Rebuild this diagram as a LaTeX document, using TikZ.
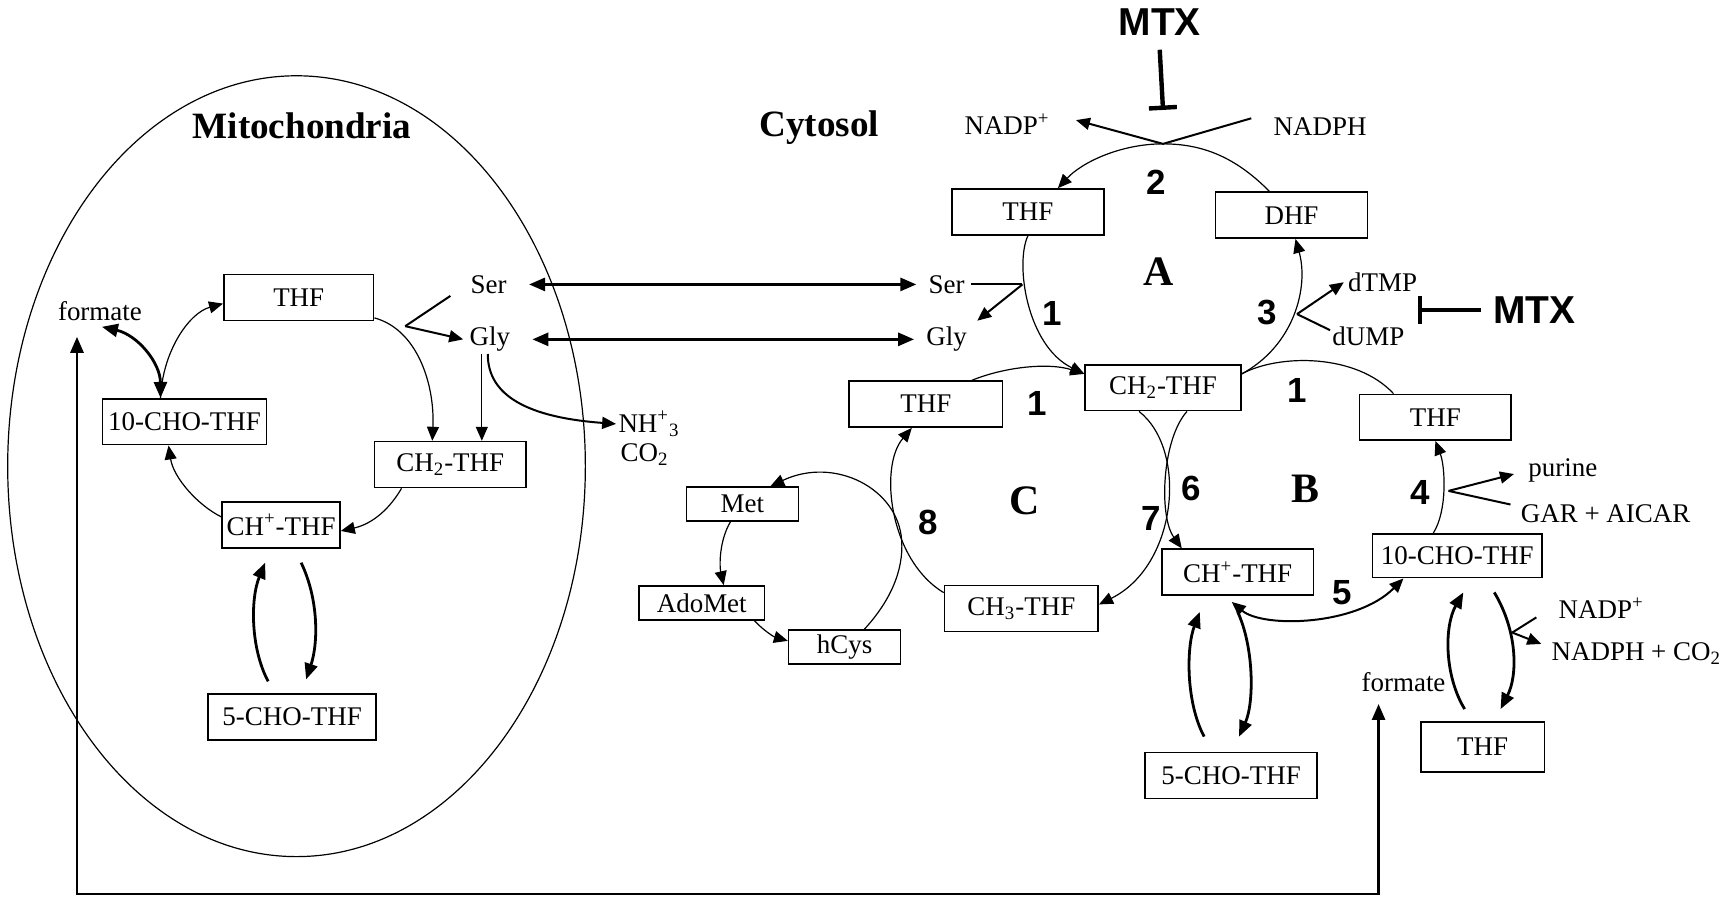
\documentclass[tikz,border=0pt]{standalone}
\usepackage{fontspec}
\setmainfont{Liberation Serif}
\newfontfamily\arialfont{Liberation Sans}
\usetikzlibrary{arrows.meta}
\tikzset{
  box/.style={rectangle, draw, line width=0.8pt, minimum height=23pt, inner sep=1pt,
    font=\fontsize{13.5}{15}\selectfont},
  sbox/.style={box, minimum height=17pt},
  lbl/.style={inner sep=1pt, font=\fontsize{13.5}{15}\selectfont},
  num/.style={inner sep=0pt, font=\arialfont\bfseries\fontsize{17.5}{19}\selectfont},
  cyc/.style={inner sep=0pt, font=\bfseries\fontsize{21}{23}\selectfont},
  comp/.style={inner sep=0pt, font=\bfseries\fontsize{18.6}{20}\selectfont},
  mtx/.style={inner sep=0pt, font=\arialfont\bfseries\fontsize{19.5}{21}\selectfont},
  ln/.style={line width=0.6pt},
  lnm/.style={line width=1pt},
  arr/.style={-{Triangle[length=7pt,width=6pt]}, line width=0.6pt},
  arrm/.style={-{Triangle[length=7pt,width=6pt]}, line width=1pt},
  darrm/.style={{Triangle[length=7pt,width=6pt]}-{Triangle[length=7pt,width=6pt]}, line width=1pt},
  tarr/.style={-{Triangle[length=8pt,width=6.5pt]}, line width=1.4pt},
  darr/.style={{Triangle[length=8pt,width=6.5pt]}-{Triangle[length=8pt,width=6.5pt]}, line width=1.4pt},
  inh/.style={-{Bar[width=14pt]}, line width=2.2pt},
}
\begin{document}
\begin{tikzpicture}[x=0.55pt, y=-0.55pt]
  \useasboundingbox (0,0) rectangle (1568,818);
  % mitochondria
  \draw[ln] (270,424.5) ellipse [x radius=263, y radius=355.5];
  \node[comp] (mitolbl) at (275,115) {Mitochondria};
  \node[box, minimum width=75pt] (mthf) at (272,271) {THF};
  \node[lbl] (mform) at (91,283) {formate};
  \node[lbl] (mser) at (445,259) {Ser};
  \node[lbl] (mgly) at (446,309) {Gly};
  \node[box, minimum width=82pt] (mcho) at (168,384) {10-CHO-THF};
  \node[box, minimum width=76pt] (mch2) at (410,423) {CH\textsubscript{2}-THF};
  \node[box, minimum width=59pt] (mchp) at (256,478) {CH\textsuperscript{+}-THF};
  \node[box, minimum width=84pt] (mfcho) at (266,653) {5-CHO-THF};
  \node[lbl, anchor=west] (mnh) at (561,386) {NH\textsuperscript{+}\textsubscript{3}};
  \node[lbl, anchor=west] (mco) at (563,414) {CO\textsubscript{2}};
  \coordinate (mbr) at (369,297);
  \draw[arr] (mthf.-15) .. controls (380,300) and (396,350) .. ([xshift=-9pt]mch2.north);
  \draw[lnm] ([xshift=-9pt]mser.south west) -- (mbr);
  \draw[arrm] (mbr) -- ([xshift=-2pt]mgly.west);
  \draw[arr] ([xshift=-4pt]mgly.south) -- ([xshift=-4pt]mgly.south |- mch2.north);
  \draw[arrm] ([xshift=-1pt]mgly.south) .. controls (444,360) and (480,380) .. (mnh.west);
  \draw[arr] ([xshift=14pt]mch2.south west) .. controls (352,468) and (335,478) .. ([yshift=-3pt]mchp.east);
  \draw[arr] ([yshift=4pt]mchp.west) .. controls (180,460) and (158,435) .. ([xshift=-8pt]mcho.south);
  \draw[arr] ([xshift=-12pt]mcho.north) .. controls (148,320) and (172,285) .. ([yshift=-3pt]mthf.west);
  \draw[darr] ([xshift=1pt,yshift=-2pt]mform.south) .. controls (125,305) and (146,330) .. ([xshift=-12pt]mcho.north);
  \draw[tarr] ([xshift=-12pt,yshift=6pt]mfcho.north) .. controls (228,590) and (228,545) .. ([xshift=-8pt,yshift=-7pt]mchp.south);
  \draw[tarr] ([xshift=10pt,yshift=-7pt]mchp.south) .. controls (290,545) and (290,585) .. ([xshift=7pt,yshift=7pt]mfcho.north);
  % exchange
  \node[lbl] (cser) at (862,259) {Ser};
  \node[lbl] (cgly) at (862,309) {Gly};
  \draw[darr] ([xshift=10pt]mser.east) -- ([xshift=-5pt]cser.west);
  \draw[darr] ([xshift=10pt]mgly.east) -- ([xshift=-5pt]cgly.west);
  \node[lbl] (cform) at (1278,621) {formate};
  \coordinate (botline) at (660,814);
  \draw[darr] ([xshift=-11.5pt,yshift=-7pt]mform.south) |- (botline) -| ([xshift=-12.5pt,yshift=-5pt]cform.south);
  % cytosol, cycle A
  \node[comp] (cytlbl) at (746,116) {Cytosol};
  \node[mtx] (mtxa) at (1056,20) {MTX};
  \node[lbl] (nadpa) at (917,113) {NADP\textsuperscript{+}};
  \node[lbl] (nadpha) at (1202,115) {NADPH};
  \coordinate (dhfr) at (1059,131);
  \draw[inh] ([yshift=-7pt]mtxa.south) -- ([yshift=17pt]dhfr);
  \draw[arrm] ([xshift=-10pt,yshift=4pt]nadpha.west) -- (dhfr) -- ([xshift=12pt,yshift=2pt]nadpa.east);
  \node[box, minimum width=76pt] (athf) at (936,193) {THF};
  \node[box, minimum width=76pt] (dhf) at (1176,196) {DHF};
  \node[num] (ntwo) at (1053,166) {2};
  \node[cyc] (cyca) at (1055,247) {A};
  \draw[arr] ([xshift=-11pt]dhf.north) .. controls (1125,143) and (1095,131) .. (dhfr)
    .. controls (1020,131) and (985,148) .. ([xshift=15pt]athf.north);
  \node[box, minimum width=78pt] (cch2) at (1059,353) {CH\textsubscript{2}-THF};
  \coordinate (shmt) at (931,259);
  \draw[arr] (athf.south) .. controls (924,240) and (935,315) .. ([yshift=-5pt]cch2.north west);
  \draw[lnm] ([xshift=2pt]cser.east) -- (shmt);
  \draw[arrm] (shmt) -- ([xshift=4pt,yshift=2pt]cgly.north east);
  \node[num] (none) at (958,285) {1};
  \draw[arr] ([yshift=-5pt]cch2.north east) .. controls (1178,315) and (1192,262) .. ([xshift=2pt]dhf.south);
  \node[lbl] (dtmp) at (1259,257) {dTMP};
  \node[lbl] (dump) at (1246,306) {dUMP};
  \coordinate (tsj) at (1181,286);
  \draw[arrm] (tsj) -- ([xshift=-1pt]dtmp.west);
  \draw[lnm] ([yshift=-3pt]dump.north west) -- (tsj);
  \node[num] (nthree) at (1154,285) {3};
  \node[mtx] (mtxb) at (1397,282) {MTX};
  \coordinate (tsbar) at (1291,282);
  \draw[inh] ([xshift=-6pt]mtxb.west) -- (tsbar);
  % cycles B and C
  \node[box, minimum width=77pt] (cthf) at (843,368) {THF};
  \draw[arr] ([xshift=23pt]cthf.north) .. controls (915,334) and (955,330) .. ([yshift=-5pt]cch2.north west);
  \node[num] (nonec) at (944,367) {1};
  \node[num] (noneb) at (1181,356) {1};
  \node[box, minimum width=76pt] (bthf) at (1307,380) {THF};
  \draw[ln] ([yshift=-5pt]cch2.north east) .. controls (1165,322) and (1235,322) .. ([xshift=-21pt]bthf.north);
  \node[cyc] (cycc) at (933,456) {C};
  \node[cyc] (cycb) at (1189,445) {B};
  \node[box, minimum width=77pt] (chthree) at (930,554) {CH\textsubscript{3}-THF};
  \draw[arr] ([yshift=-4pt]chthree.north west) .. controls (810,510) and (800,425) .. ([xshift=-7pt]cthf.south);
  \node[num] (neight) at (845,476) {8};
  \node[num] (nseven) at (1048,472) {7};
  \node[box, minimum width=76pt] (bch) at (1127,521) {CH\textsuperscript{+}-THF};
  \draw[arr] ([xshift=-12pt]cch2.south) .. controls (1082,410) and (1072,515) .. ([yshift=2pt]chthree.east);
  \draw[arr] ([xshift=12pt]cch2.south) .. controls (1058,400) and (1055,470) .. ([xshift=-28pt]bch.north);
  \node[num] (nsix) at (1085,445) {6};
  \node[box, minimum width=85pt, minimum height=22pt] (bcho) at (1327,506) {10-CHO-THF};
  \node[num] (nfive) at (1222,540) {5};
  \draw[darrm] ([xshift=-3pt,yshift=-3pt]bch.south) .. controls (1150,572) and (1235,570) .. ([xshift=-27pt]bcho.south);
  \draw[arr] ([xshift=-12pt]bcho.north) .. controls (1318,465) and (1316,425) .. (bthf.south);
  \node[num] (nfour) at (1293,448) {4};
  \node[lbl] (purine) at (1423,428) {purine};
  \node[lbl] (garaicar) at (1462,468) {GAR + AICAR};
  \coordinate (gart) at (1319,447);
  \draw[arrm] (gart) -- ([xshift=-6pt,yshift=-2pt]purine.west);
  \draw[lnm] ([xshift=-4pt,yshift=-1pt]garaicar.north west) -- (gart);
  % methionine cycle
  \node[sbox, minimum width=56pt] (met) at (676,459) {Met};
  \node[sbox, minimum width=63pt] (adomet) at (639,549) {AdoMet};
  \node[sbox, minimum width=56pt] (hcys) at (769,589) {hCys};
  \coordinate (mcyc) at (821,492);
  \draw[arr] ([xshift=10pt]hcys.north) .. controls (810,548) and (823,520) .. (mcyc)
    .. controls (818,445) and (760,415) .. ([xshift=14pt]met.north);
  \draw[arr] ([xshift=-6pt]met.south) .. controls (655,492) and (655,515) .. ([xshift=11pt]adomet.north);
  \draw[arr] ([xshift=-5.5pt]adomet.south east) .. controls (695,574) and (705,580) .. ([yshift=3pt]hcys.west);
  % 5-CHO-THF and formate (cytosol)
  \node[box, minimum width=86pt] (bfcho) at (1121,706) {5-CHO-THF};
  \draw[tarr] ([xshift=-13.5pt,yshift=7.5pt]bfcho.north) .. controls (1080,640) and (1080,590) .. ([xshift=-19pt,yshift=-8pt]bch.south);
  \draw[tarr] ([yshift=-8pt]bch.south) .. controls (1142,590) and (1142,640) .. ([xshift=4pt,yshift=7.5pt]bfcho.north);
  \node[box, minimum width=62pt, minimum height=25pt] (bthfb) at (1350,680) {THF};
  \draw[tarr] ([xshift=-9pt,yshift=6pt]bthfb.north) .. controls (1315,615) and (1315,570) .. ([xshift=3pt,yshift=-7pt]bcho.south);
  \draw[tarr] ([xshift=18.5pt,yshift=-7pt]bcho.south) .. controls (1382,575) and (1382,615) .. ([xshift=9pt,yshift=6pt]bthfb.north);
  \node[lbl] (nadpb) at (1458,554) {NADP\textsuperscript{+}};
  \node[lbl] (nadphb) at (1490,595) {NADPH + CO\textsubscript{2}};
  \coordinate (mthfd) at (1377,576);
  \draw[lnm] ([xshift=-10pt,yshift=2pt]nadpb.south west) -- (mthfd);
  \draw[arrm] (mthfd) -- ([xshift=-4pt,yshift=-2pt]nadphb.north west);
\end{tikzpicture}
\end{document}
